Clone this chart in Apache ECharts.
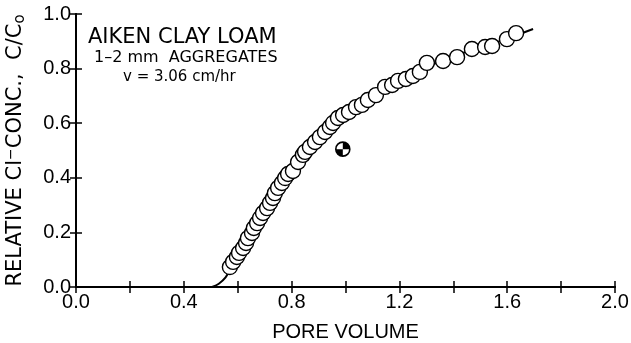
<!DOCTYPE html>
<html>
<head>
<meta charset="utf-8">
<script src="https://cdn.jsdelivr.net/npm/echarts@6/dist/echarts.min.js"></script>
<style>
  html, body { margin: 0; padding: 0; background: #fff; }
  #main { width: 631px; height: 343px; }
</style>
</head>
<body>
<div id="main"></div>
<script>
// 观测点 (pore volume, C/Co)
var poreVolume = [0.571, 0.583, 0.597, 0.605, 0.620, 0.631, 0.638, 0.653, 0.660, 0.672,
    0.683, 0.694, 0.709, 0.720, 0.731, 0.738, 0.750, 0.764, 0.776, 0.787,
    0.805, 0.824, 0.842, 0.850, 0.868, 0.887, 0.905, 0.924, 0.942, 0.954,
    0.972, 0.991, 1.013, 1.039, 1.061, 1.083, 1.113, 1.147, 1.173, 1.195,
    1.224, 1.250, 1.276, 1.302, 1.362, 1.414, 1.469, 1.518, 1.544, 1.599, 1.633];
var relConc = [0.073, 0.092, 0.110, 0.125, 0.143, 0.161, 0.179, 0.198, 0.216, 0.234,
    0.253, 0.271, 0.289, 0.308, 0.326, 0.344, 0.363, 0.381, 0.399, 0.414,
    0.425, 0.458, 0.484, 0.495, 0.513, 0.531, 0.549, 0.568, 0.586, 0.601,
    0.619, 0.630, 0.641, 0.659, 0.667, 0.685, 0.703, 0.733, 0.740, 0.755,
    0.762, 0.773, 0.788, 0.821, 0.828, 0.842, 0.872, 0.879, 0.883, 0.908, 0.930];

// 计算曲线
var curveX = [0.505, 0.53, 0.555, 0.575, 0.6, 0.65, 0.7, 0.75, 0.8, 0.9, 1.0, 1.1, 1.2, 1.3, 1.4, 1.5, 1.6, 1.696];
var curveY = [0.0, 0.012, 0.035, 0.07, 0.115, 0.2, 0.28, 0.355, 0.42, 0.54, 0.63, 0.70, 0.755, 0.805, 0.845, 0.878, 0.91, 0.945];

// 单独的标记点
var markX = [0.99];
var markY = [0.505];

var xTicks = [0.0, 0.4, 0.8, 1.2, 1.6, 2.0];
var yTicks = [0.0, 0.2, 0.4, 0.6, 0.8, 1.0];

function pairs(xs, ys) {
    var out = [];
    for (var i = 0; i < xs.length; i++) {
        out.push([xs[i], ys[i]]);
    }
    return out;
}

var font = 'Liberation Sans';
var wide = 'DejaVu Sans';
var axisLine = { lineStyle: { color: '#000', width: 2 } };
var axisTick = { inside: true, length: 6, lineStyle: { color: '#000', width: 1.5 } };

var myChart = echarts.init(document.getElementById('main'));
var option = {
    animation: false,
    backgroundColor: '#fff',
    textStyle: { fontFamily: font, color: '#000' },
    grid: { left: 76, right: 16, top: 14, bottom: 56, outerBoundsMode: 'none' },
    graphic: [
        { type: 'text', left: 88, top: 27, style: { text: 'AIKEN CLAY LOAM', font: '21px DejaVu Sans', fill: '#000' } },
        { type: 'text', left: 94, top: 50, style: { text: '1\u20132 mm  AGGREGATES', font: '16px DejaVu Sans', fill: '#000' } },
        { type: 'text', left: 123, top: 70, style: { text: 'v = 3.06 cm/hr', font: '15px DejaVu Sans', fill: '#000' } }
    ],
    xAxis: [
        {
            type: 'value', min: 0, max: 2, interval: 0.2,
            name: 'PORE VOLUME', nameLocation: 'middle', nameGap: 35,
            nameTextStyle: { fontSize: 20, color: '#000', fontFamily: font },
            axisLine: axisLine, axisTick: axisTick, splitLine: { show: false },
            axisLabel: {
                fontSize: 20, color: '#000', margin: 5, fontFamily: font,
                formatter: function (v) {
                    var s = v.toFixed(1);
                    return xTicks.some(function (t) { return Math.abs(t - v) < 1e-6; }) ? s : '';
                }
            }
        },
        {
            type: 'value', min: 0, max: 2, interval: 0.2, position: 'top',
            axisLine: axisLine, axisTick: axisTick, splitLine: { show: false },
            axisLabel: { show: false }
        }
    ],
    yAxis: [
        {
            type: 'value', min: 0, max: 1, interval: 0.2,
            name: 'RELATIVE Cl{sup|\u2212}CONC.,  C/C{sub|o}', nameLocation: 'middle', nameGap: 48,
            nameTextStyle: {
                fontSize: 21, color: '#000', fontFamily: wide,
                rich: {
                    sup: { fontSize: 14, fontFamily: wide, color: '#000', padding: [0, 0, 10, 0] },
                    sub: { fontSize: 15, fontFamily: wide, color: '#000', padding: [8, 0, 0, 0] }
                }
            },
            axisLine: axisLine, axisTick: axisTick, splitLine: { show: false },
            axisLabel: {
                fontSize: 20, color: '#000', margin: 5, fontFamily: font,
                formatter: function (v) { return v.toFixed(1); }
            }
        },
        {
            type: 'value', min: 0, max: 1, interval: 0.2, position: 'right',
            axisLine: axisLine, axisTick: axisTick, splitLine: { show: false },
            axisLabel: { show: false }
        }
    ],
    series: [
        {
            type: 'line',
            data: pairs(curveX, curveY),
            smooth: 0.3,
            showSymbol: false,
            lineStyle: { color: '#000', width: 2 },
            z: 2
        },
        {
            type: 'scatter',
            data: pairs(poreVolume, relConc),
            symbol: 'circle',
            symbolSize: 15,
            itemStyle: { color: '#fff', borderColor: '#000', borderWidth: 1.4, opacity: 1 },
            z: 3
        },
        {
            type: 'scatter',
            data: pairs(markX, markY),
            symbol: 'circle',
            symbolSize: 14,
            itemStyle: { color: '#fff', borderColor: '#000', borderWidth: 1.6, opacity: 1 },
            z: 4
        },
        {
            type: 'scatter',
            data: pairs(markX, markY),
            symbol: 'path://M10,10 L10,0 A10,10 0 0 1 20,10 Z M10,10 L10,20 A10,10 0 0 1 0,10 Z',
            symbolSize: 14,
            itemStyle: { color: '#000', opacity: 1 },
            z: 5
        }
    ]
};
myChart.setOption(option, true);
</script>
</body>
</html>
